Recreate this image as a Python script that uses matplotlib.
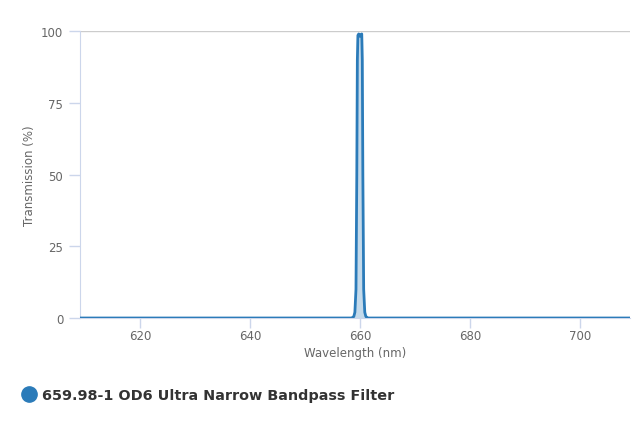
import matplotlib
matplotlib.use("Agg")
import matplotlib.pyplot as plt
from matplotlib.lines import Line2D

# spectrum
wavelength = [609.0, 655.0, 658.5, 658.9, 659.1, 659.3, 659.45, 659.55, 659.65,
              659.8, 660.0, 660.2, 660.35, 660.45, 660.55, 660.7, 660.9, 661.1,
              661.5, 709.0]
transmission = [0.0, 0.0, 0.0, 0.5, 2.0, 10.0, 50.0, 90.0, 98.5,
                 99.0, 98.2, 98.8, 99.0, 90.0, 50.0, 10.0, 2.0, 0.5,
                 0.0, 0.0]

series_name = "659.98-1 OD6 Ultra Narrow Bandpass Filter"
x_ticks = [620, 640, 660, 680, 700]
y_ticks = [0, 25, 50, 75, 100]

line_color = "#2b7bb9"
axis_color = "#ccd6eb"
text_color = "#666666"

fig = plt.figure(figsize=(6.4, 4.27), dpi=100)
ax = fig.add_axes([0.125, 0.2529, 0.859, 0.672])

ax.fill_between(wavelength, transmission, 0, color=line_color, alpha=0.28, linewidth=0)
ax.plot(wavelength, transmission, color=line_color, linewidth=2, zorder=3)

ax.set_xlim(609.1, 709.1)
ax.set_ylim(0, 100)
ax.set_xticks(x_ticks)
ax.set_yticks(y_ticks)

ax.axhline(100, color="#cccccc", linewidth=1, zorder=1)

for side in ["top", "right"]:
    ax.spines[side].set_visible(False)
ax.spines["left"].set_color(axis_color)
ax.spines["bottom"].set_color(axis_color)

ax.tick_params(axis="x", colors=axis_color, length=7, width=1, labelcolor=text_color,
               labelsize=8.5, pad=1)
ax.tick_params(axis="y", colors=axis_color, length=8, width=1, labelcolor=text_color,
               labelsize=8.5, pad=4)

ax.set_xlabel("Wavelength (nm)", color=text_color, fontsize=8.5, labelpad=3)
ax.set_ylabel("Transmission (%)", color=text_color, fontsize=8.5, labelpad=4)

handle = Line2D([], [], marker="o", color=line_color, linestyle="none", markersize=11)
fig.legend([handle], [series_name], loc="center left", bbox_to_anchor=(0.022, 0.072),
           frameon=False, handletextpad=0.45, borderpad=0, handlelength=1.0,
           prop={"family": "DejaVu Sans", "weight": "bold", "size": 10.4},
           labelcolor="#333333")

fig.savefig("out.png", dpi=100)
